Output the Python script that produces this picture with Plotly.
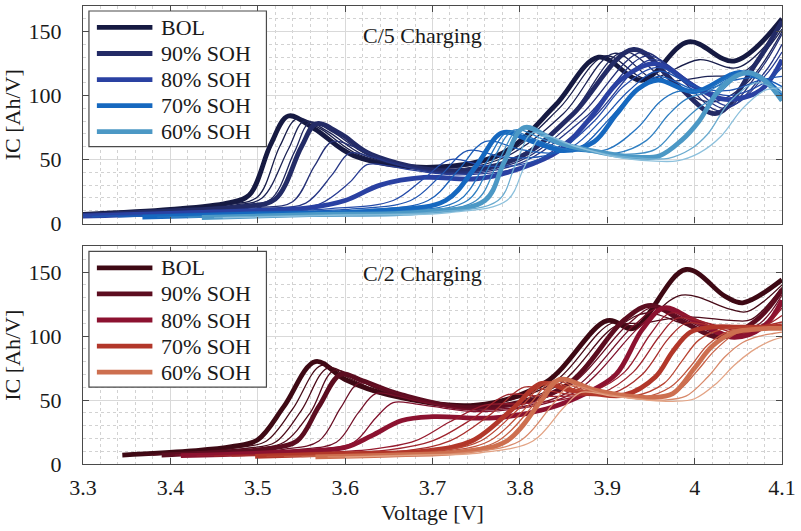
import plotly.graph_objects as go
from plotly.subplots import make_subplots

# ---------------------------------------------------------------------------
# Incremental capacity curves, one row per ageing checkpoint (BOL -> EOL).
# Rows 0, 4, 8, 12, 16 are the labelled states of health.
# ---------------------------------------------------------------------------
soh_labels = ["BOL", "90% SOH", "80% SOH", "70% SOH", "60% SOH"]
labelled_rows = [0, 4, 8, 12, 16]

voltage_ticks = [3.3, 3.4, 3.5, 3.6, 3.7, 3.8, 3.9, 4.0, 4.1]
voltage_tick_text = ["3.3", "3.4", "3.5", "3.6", "3.7", "3.8", "3.9", "4", "4.1"]
ic_ticks = [0, 50, 100, 150]

c5_colors = ["#161a42", "#232b66", "#2a41a2", "#1668bf", "#4c98c5"]
c5_tail_color = "#8cc0dc"
c2_colors = ["#3e0914", "#5c0d20", "#8c1230", "#b2372a", "#cd6f4f"]
c2_tail_color = "#e3a384"

# C/5 charging
c5_voltage = [
    [3.28, 3.40, 3.465, 3.49, 3.515, 3.535, 3.565, 3.61, 3.70, 3.78, 3.84, 3.89, 3.94, 3.993, 4.045, 4.10],
    [3.28, 3.40, 3.47, 3.50, 3.525, 3.545, 3.572, 3.615, 3.70, 3.78, 3.845, 3.898, 3.945, 4.005, 4.05, 4.10],
    [3.28, 3.40, 3.475, 3.505, 3.535, 3.553, 3.58, 3.62, 3.70, 3.78, 3.85, 3.908, 3.955, 4.015, 4.055, 4.10],
    [3.28, 3.40, 3.48, 3.515, 3.542, 3.56, 3.587, 3.625, 3.71, 3.79, 3.855, 3.918, 3.97, 4.02, 4.06, 4.10],
    [3.28, 3.40, 3.485, 3.52, 3.55, 3.567, 3.595, 3.63, 3.72, 3.80, 3.86, 3.93, 3.98, 4.025, 4.07, 4.10],
    [3.28, 3.42, 3.50, 3.54, 3.565, 3.585, 3.61, 3.645, 3.72, 3.80, 3.87, 3.94, 3.985, 4.03, 4.075, 4.10],
    [3.28, 3.42, 3.51, 3.555, 3.585, 3.605, 3.63, 3.66, 3.72, 3.80, 3.875, 3.945, 3.99, 4.035, 4.08, 4.10],
    [3.28, 3.42, 3.52, 3.57, 3.605, 3.625, 3.65, 3.675, 3.73, 3.81, 3.88, 3.95, 3.995, 4.04, 4.08, 4.10],
    [3.28, 3.45, 3.56, 3.60, 3.64, 3.69, 3.75, 3.80, 3.845, 3.88, 3.915, 3.955, 4.00, 4.035, 4.075, 4.10],
    [3.29, 3.45, 3.58, 3.655, 3.69, 3.72, 3.76, 3.80, 3.845, 3.885, 3.92, 3.958, 4.005, 4.04, 4.08, 4.10],
    [3.31, 3.47, 3.60, 3.675, 3.71, 3.74, 3.78, 3.82, 3.86, 3.895, 3.925, 3.958, 4.005, 4.04, 4.075, 4.10],
    [3.34, 3.49, 3.62, 3.695, 3.73, 3.76, 3.80, 3.835, 3.87, 3.90, 3.93, 3.958, 4.005, 4.045, 4.075, 4.10],
    [3.368, 3.50, 3.64, 3.715, 3.75, 3.78, 3.815, 3.85, 3.885, 3.91, 3.935, 3.958, 4.00, 4.05, 4.08, 4.10],
    [3.385, 3.52, 3.66, 3.73, 3.76, 3.787, 3.82, 3.86, 3.90, 3.935, 3.96, 3.98, 4.01, 4.052, 4.08, 4.10],
    [3.40, 3.53, 3.67, 3.74, 3.767, 3.793, 3.83, 3.87, 3.91, 3.945, 3.97, 3.99, 4.015, 4.055, 4.08, 4.10],
    [3.42, 3.55, 3.68, 3.75, 3.775, 3.80, 3.84, 3.88, 3.92, 3.955, 3.98, 4.00, 4.025, 4.058, 4.08, 4.10],
    [3.436, 3.56, 3.69, 3.76, 3.782, 3.805, 3.845, 3.89, 3.93, 3.96, 3.985, 4.005, 4.03, 4.06, 4.08, 4.10],
    [3.45, 3.58, 3.70, 3.775, 3.795, 3.815, 3.855, 3.90, 3.94, 3.97, 3.995, 4.015, 4.04, 4.07, 4.09, 4.10],
    [3.46, 3.60, 3.72, 3.785, 3.805, 3.825, 3.865, 3.91, 3.95, 3.98, 4.005, 4.03, 4.055, 4.08, 4.095, 4.10],
]
c5_ic = [
    [6.5, 11, 16, 22, 62, 84, 74, 53, 44, 55, 92, 130, 112, 142, 127, 160],
    [6.3, 10.5, 15, 21, 60, 82, 74, 54, 43, 53, 90, 131, 113, 128, 122, 155],
    [6.2, 10.2, 14.5, 20, 58, 80, 72, 54, 42, 51, 86, 133, 112, 115, 118, 152],
    [6.1, 10, 14, 19, 56, 79, 71, 54, 41, 50, 82, 134, 110, 95, 110, 150],
    [6.0, 9.8, 13.5, 19, 60, 78, 70, 54, 41, 52, 85, 136, 108, 86, 125, 158],
    [5.9, 9.5, 12.5, 17, 45, 64, 60, 50, 40, 49, 85, 134, 112, 88, 120, 148],
    [5.8, 9.2, 12, 16, 38, 55, 52, 46, 39, 47, 83, 131, 112, 90, 118, 140],
    [5.7, 9, 11.5, 15, 32, 46, 45, 42, 38, 46, 80, 128, 111, 92, 115, 134],
    [5.5, 9, 12.5, 18, 30, 36, 35, 43, 57, 82, 112, 125, 107, 97, 104, 128],
    [5.4, 8.5, 11.5, 18, 35, 50, 45, 46, 57, 80, 108, 122, 106, 100, 110, 122],
    [5.3, 8.3, 11, 18, 38, 57, 52, 52, 60, 82, 104, 119, 106, 104, 112, 115],
    [5.2, 8, 10.5, 18, 42, 64, 58, 55, 60, 80, 102, 115, 104, 112, 114, 107],
    [5.0, 7.5, 10, 18, 45, 71, 64, 57, 64, 85, 105, 112, 103, 118, 112, 100],
    [5.0, 7.3, 9.5, 18, 46, 72, 65, 57, 58, 75, 95, 103, 104, 118, 112, 99],
    [4.9, 7.1, 9.2, 18, 47, 73, 65, 57, 55, 65, 85, 97, 103, 118, 112, 98],
    [4.8, 7.0, 9.0, 18, 48, 74, 64, 57, 54, 58, 75, 88, 100, 118, 112, 97],
    [4.7, 7.0, 9.0, 18, 48, 75, 63, 56, 52, 53, 65, 80, 106, 118, 112, 96],
    [4.6, 6.8, 8.8, 18, 46, 71, 62, 54, 51, 51, 58, 70, 95, 110, 106, 102],
    [4.5, 6.6, 8.6, 18, 44, 68, 60, 52, 49, 49, 55, 68, 90, 104, 106, 106],
]

# C/2 charging
c2_voltage = [
    [3.345, 3.42, 3.47, 3.50, 3.53, 3.566, 3.60, 3.65, 3.75, 3.83, 3.90, 3.93, 3.99, 4.035, 4.055, 4.10],
    [3.36, 3.43, 3.48, 3.51, 3.54, 3.573, 3.605, 3.65, 3.75, 3.835, 3.905, 3.935, 3.985, 4.04, 4.06, 4.10],
    [3.37, 3.44, 3.49, 3.52, 3.55, 3.58, 3.61, 3.655, 3.75, 3.84, 3.91, 3.94, 3.99, 4.045, 4.065, 4.10],
    [3.38, 3.45, 3.50, 3.53, 3.56, 3.587, 3.615, 3.66, 3.75, 3.845, 3.915, 3.945, 3.985, 4.03, 4.07, 4.10],
    [3.39, 3.46, 3.51, 3.545, 3.57, 3.595, 3.62, 3.665, 3.75, 3.85, 3.92, 3.95, 3.99, 4.03, 4.07, 4.10],
    [3.40, 3.47, 3.53, 3.57, 3.595, 3.615, 3.64, 3.67, 3.75, 3.85, 3.925, 3.955, 3.995, 4.035, 4.075, 4.10],
    [3.405, 3.48, 3.545, 3.59, 3.615, 3.635, 3.66, 3.685, 3.755, 3.855, 3.93, 3.96, 4.00, 4.04, 4.08, 4.10],
    [3.41, 3.49, 3.56, 3.61, 3.635, 3.655, 3.68, 3.70, 3.76, 3.86, 3.935, 3.963, 4.005, 4.045, 4.08, 4.10],
    [3.412, 3.52, 3.60, 3.63, 3.665, 3.70, 3.77, 3.83, 3.875, 3.91, 3.94, 3.965, 4.00, 4.045, 4.08, 4.10],
    [3.43, 3.54, 3.63, 3.68, 3.72, 3.76, 3.80, 3.845, 3.885, 3.92, 3.95, 3.972, 4.01, 4.05, 4.08, 4.10],
    [3.45, 3.56, 3.65, 3.70, 3.745, 3.785, 3.82, 3.855, 3.895, 3.93, 3.96, 3.98, 4.015, 4.05, 4.08, 4.10],
    [3.47, 3.58, 3.67, 3.72, 3.765, 3.805, 3.835, 3.865, 3.905, 3.94, 3.97, 3.99, 4.02, 4.05, 4.08, 4.10],
    [3.497, 3.60, 3.69, 3.745, 3.79, 3.825, 3.855, 3.885, 3.92, 3.955, 3.975, 3.995, 4.02, 4.05, 4.08, 4.10],
    [3.51, 3.61, 3.70, 3.755, 3.80, 3.832, 3.865, 3.895, 3.93, 3.965, 3.985, 4.005, 4.03, 4.055, 4.08, 4.10],
    [3.53, 3.63, 3.71, 3.765, 3.81, 3.838, 3.872, 3.905, 3.94, 3.972, 3.995, 4.015, 4.04, 4.06, 4.08, 4.10],
    [3.55, 3.645, 3.72, 3.775, 3.818, 3.842, 3.878, 3.915, 3.95, 3.98, 4.002, 4.022, 4.045, 4.065, 4.085, 4.10],
    [3.566, 3.66, 3.73, 3.785, 3.825, 3.845, 3.885, 3.925, 3.95, 3.975, 4.00, 4.02, 4.045, 4.065, 4.085, 4.10],
    [3.58, 3.67, 3.74, 3.80, 3.838, 3.857, 3.895, 3.935, 3.965, 3.99, 4.015, 4.035, 4.055, 4.075, 4.09, 4.10],
    [3.60, 3.68, 3.755, 3.815, 3.85, 3.87, 3.905, 3.945, 3.975, 4.00, 4.025, 4.045, 4.065, 4.08, 4.09, 4.10],
]
c2_ic = [
    [7, 10, 13.5, 19, 45, 80, 66, 54, 46, 64, 112, 106, 152, 131, 126, 144],
    [7, 9.8, 13, 18, 43, 77, 67, 54, 46, 62, 110, 108, 132, 121, 119, 140],
    [7, 9.6, 12.5, 17, 42, 75, 67, 54, 45, 60, 108, 110, 115, 112, 113, 138],
    [7, 9.4, 12, 17, 40, 73, 66, 54, 45, 59, 108, 118, 110, 100, 112, 137],
    [7, 9.2, 11.8, 18, 45, 70, 65, 54, 44, 60, 113, 124, 110, 99, 112, 136],
    [7, 9, 11.5, 18, 44, 63, 60, 53, 43, 58, 110, 123, 111, 100, 110, 132],
    [7, 8.8, 11.2, 17, 40, 55, 53, 49, 42, 56, 108, 122, 111, 101, 110, 128],
    [7, 8.6, 11, 17, 36, 48, 47, 45, 41, 55, 106, 121, 111, 101, 108, 124],
    [6.5, 9, 13, 22, 34, 37, 36, 43, 55, 70, 105, 122, 112, 99, 108, 128],
    [6.3, 8.5, 11.5, 18, 33, 46, 47, 50, 57, 72, 102, 118, 111, 102, 108, 122],
    [6.2, 8.3, 11, 18, 35, 54, 53, 53, 56, 72, 100, 114, 110, 104, 108, 116],
    [6.1, 8.1, 10.5, 18, 38, 60, 57, 54, 55, 70, 98, 110, 108, 106, 108, 111],
    [6.0, 8.0, 10, 18, 42, 63, 58, 55, 54, 68, 88, 103, 107, 107, 107, 108],
    [5.9, 7.8, 9.8, 18, 44, 64, 58, 54, 53, 63, 80, 97, 105, 107, 107, 107],
    [5.8, 7.6, 9.6, 18, 46, 65, 58, 54, 52, 60, 76, 93, 104, 106, 106, 107],
    [5.7, 7.4, 9.4, 18, 48, 66, 58, 54, 52, 57, 72, 88, 101, 105, 106, 106],
    [5.6, 7.2, 9.2, 18, 50, 66, 58, 53, 52, 55, 75, 92, 103, 105, 106, 106],
    [5.5, 7.0, 9.0, 18, 47, 61, 55, 51, 50, 53, 68, 84, 95, 100, 102, 103],
    [5.4, 6.8, 8.8, 18, 44, 56, 53, 50, 49, 51, 63, 77, 88, 94, 97, 99],
]

FONT = "Liberation Serif"
FS = 22
TEXT = "#1a1a1a"


def _rgb(h):
    h = h.lstrip("#")
    return [int(h[i:i + 2], 16) for i in (0, 2, 4)]


def _mix(a, b, t):
    ca, cb = _rgb(a), _rgb(b)
    return "rgb({},{},{})".format(*[round(x + (y - x) * t) for x, y in zip(ca, cb)])


def row_color(i, anchors, tail):
    """Shade every checkpoint between its two labelled neighbours."""
    last = labelled_rows[-1]
    if i >= last:
        n_after = max(1, 18 - last)
        return _mix(anchors[-1], tail, (i - last) / n_after)
    for k in range(len(labelled_rows) - 1):
        a, b = labelled_rows[k], labelled_rows[k + 1]
        if a <= i <= b:
            return _mix(anchors[k], anchors[k + 1], (i - a) / (b - a))
    return anchors[-1]


fig = make_subplots(rows=2, cols=1)

panels = [
    (1, c5_voltage, c5_ic, c5_colors, c5_tail_color),
    (2, c2_voltage, c2_ic, c2_colors, c2_tail_color),
]
for r, volts, ics, anchors, tail in panels:
    for i, (v, ic) in enumerate(zip(volts, ics)):
        thick = i in labelled_rows
        fig.add_trace(
            go.Scatter(
                x=v, y=ic, mode="lines",
                line=dict(color=row_color(i, anchors, tail),
                          width=4.8 if thick else 1.3,
                          shape="spline", smoothing=1.0),
                showlegend=False, hoverinfo="skip",
            ),
            row=r, col=1,
        )

# plot area in pixels: x 83..788, top panel y 5..223, bottom panel y 246..464
W, H = 801, 531
ML, MR, MT, MB = 83, 13, 5, 67
paper_h = H - MT - MB
top_dom = [(464 - 223) / paper_h, 1.0]
bot_dom = [0.0, (464 - 246) / paper_h]

axis_common = dict(
    showline=True, linecolor="#4a4a4a", linewidth=1.3, mirror="ticks",
    ticks="inside", ticklen=6, tickwidth=1.1, tickcolor="#4a4a4a",
    showgrid=True, gridcolor="#d9d9d9", gridwidth=1, zeroline=False,
    tickfont=dict(family=FONT, size=FS, color=TEXT),
)
x_common = dict(
    axis_common, range=[3.3, 4.1], tickvals=voltage_ticks, ticktext=voltage_tick_text,
    ticklabeloverflow="allow",
    minor=dict(dtick=0.02, tick0=3.3, showgrid=True, gridcolor="#d2d2d2",
               griddash="dot", gridwidth=0.9, ticks=""),
)
y_common = dict(
    axis_common, range=[0, 170], tickvals=ic_ticks,
    minor=dict(dtick=10, tick0=0, showgrid=True, gridcolor="#d2d2d2",
               griddash="dot", gridwidth=0.9, ticks=""),
    ticklabelstandoff=16,
    title=dict(text="IC [Ah/V]", font=dict(family=FONT, size=FS, color=TEXT), standoff=1),
)

fig.update_layout(
    width=W, height=H,
    margin=dict(l=ML, r=MR, t=MT, b=MB),
    paper_bgcolor="white", plot_bgcolor="white",
    font=dict(family=FONT, size=FS, color=TEXT),
    xaxis=dict(x_common, domain=[0, 1], anchor="y", showticklabels=False),
    yaxis=dict(y_common, domain=top_dom, anchor="x"),
    xaxis2=dict(x_common, domain=[0, 1], anchor="y2", ticklabelstandoff=3,
                title=dict(text="Voltage [V]", font=dict(family=FONT, size=FS, color=TEXT),
                           standoff=6)),
    yaxis2=dict(y_common, domain=bot_dom, anchor="x2"),
)

# panel captions
captions = [("x", "y", "C/5 Charging", 147), ("x2", "y2", "C/2 Charging", 149)]
for xr, yr, text, yv in captions:
    fig.add_annotation(x=3.618, y=yv, xref=xr, yref=yr, text=text, showarrow=False,
                       xanchor="left", yanchor="middle",
                       font=dict(family=FONT, size=FS, color=TEXT))

# boxed legends in the upper-left corner of each panel
plot_w = W - ML - MR
panel_h = 218.0
for xr, yr, anchors in [("x", "y", c5_colors), ("x2", "y2", c2_colors)]:
    xd, yd = xr + " domain", yr + " domain"
    fig.add_shape(type="rect", xref=xd, yref=yd,
                  x0=(89 - ML) / plot_w, x1=(268 - ML) / plot_w,
                  y0=1 - (146 - 5) / panel_h, y1=1 - (10 - 5) / panel_h,
                  line=dict(color="#4a4a4a", width=1.2), fillcolor="white", layer="above")
    for k, label in enumerate(soh_labels):
        yy = 1 - (21.5 + 26.1 * k) / panel_h
        fig.add_shape(type="line", xref=xd, yref=yd,
                      x0=(97 - ML) / plot_w, x1=(153 - ML) / plot_w, y0=yy, y1=yy,
                      line=dict(color=anchors[k], width=4.8), layer="above")
        fig.add_annotation(x=(160 - ML) / plot_w, y=yy, xref=xd, yref=yd, text=label,
                           showarrow=False, xanchor="left", yanchor="middle",
                           font=dict(family=FONT, size=FS, color=TEXT))

fig.write_html("out.html")
